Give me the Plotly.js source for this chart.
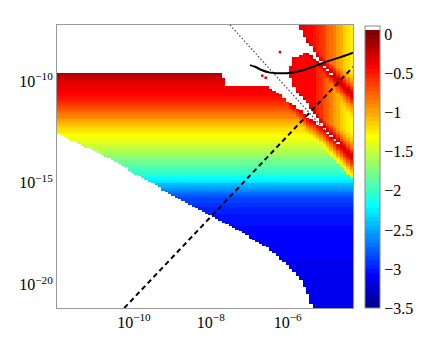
<!DOCTYPE html>
<html>
<head>
<meta charset="utf-8">
<script src="https://cdn.plot.ly/plotly-3.0.1.min.js"></script>
<style>body{margin:0;background:#fff}</style>
</head>
<body>
<div id="chart" style="width:436px;height:347px"></div>
<script>
// all values are log10 of the axis quantities

// colour (log10 value) of the main band, against log10 y
const profileY = [-21, -20, -19, -18, -17, -16.5, -16, -15.5, -15, -14.5, -14, -13.5, -13, -12.5, -12, -11.5, -11, -10.5, -10, -9.75, -9.5, -9];
const profileZ = [-3.15, -3.14, -3.12, -3.1, -3.06, -3.02, -2.95, -2.8, -2.45, -2.1, -1.88, -1.68, -1.46, -1.3, -1.1, -0.84, -0.6, -0.42, -0.36, -0.28, -0.15, -0.05];

// lower edge of the coloured area
const bottomX = [-12.0, -11.52, -11.01, -10.49, -9.97, -9.45, -8.93, -8.41, -7.97, -7.45, -6.94, -6.50, -6.07, -5.86, -5.60, -5.42, -5.38];
const bottomY = [-12.42, -12.83, -13.33, -13.82, -14.39, -14.96, -15.54, -16.03, -16.52, -17.01, -17.58, -18.07, -18.81, -19.14, -19.78, -20.61, -21.0];

// upper edge of the main area (down the white wedge and its thin tail)
const topX = [-12, -7.71, -7.63, -6.55, -6.42, -6.20, -6.03, -5.86, -5.68, -5.51, -5.29, -5.08, -4.64, -4.3];
const topY = [-9.45, -9.45, -10.05, -10.05, -10.29, -10.46, -10.79, -11.03, -11.28, -11.61, -11.87, -12.16, -13.02, -13.70];

// red glow under the wedge: distance below the edge -> value
const haloD = [0, 0.1, 0.25, 0.45, 0.7, 1.0];
const haloZ = [-0.3, -0.42, -0.6, -0.85, -1.15, -1.5];

// middle lobe: lower edge, left edge, upper (stripe) edge
const low2X = [-5.94, -5.9, -5.77, -5.42, -5.07, -4.64, -4.3];
const low2Y = [-9.9, -10.1, -10.4, -11.11, -12.1, -12.99, -13.67];
const left2Y = [-10.3, -9.98, -9.41, -8.92, -8.7, -8.59, -8.45];
const left2X = [-5.8, -5.90, -5.94, -5.90, -5.85, -5.68, -5.55];
const stripeLowX = [-5.7, -5.42, -5.25, -5.1, -4.7, -4.3];
const stripeLowU = [-19.5, -19.43, -19.32, -19.28, -19.23, -19.2];
const mid2X = [-6, -5.3, -5.0, -4.7, -4.3];
const mid2Z = [-0.38, -0.45, -0.72, -1.05, -1.35];

// top right lobe
const lobe1X = [-5.75, -5.60, -5.42, -5.25, -5.12, -4.8, -4.3];
const lobe1U = [-18.5, -18.81, -18.94, -19.09, -19.16, -19.18, -19.17];
const mid1X = [-5.75, -5.4, -5.1, -4.8, -4.5, -4.3];
const mid1Z = [-0.35, -0.42, -0.6, -0.88, -1.15, -1.3];

// red glow along the stripes inside the lobes
const edgeD = [0, 0.15, 0.3, 0.5, 0.8, 1.2];
const edgeZ = [-0.22, -0.4, -0.6, -0.85, -1.1, -1.3];

// lines and dots
const dashX = [-10.25, -4.30];
const dashY = [-21.0, -9.16];
const dotX = [-7.50, -4.33];
const dotY = [-7.1, -13.73];
const curveX = [-6.98, -6.85, -6.68, -6.46, -6.24, -6.03, -5.68, -5.34, -4.99, -4.64, -4.30];
const curveY = [-9.07, -9.15, -9.31, -9.44, -9.47, -9.47, -9.36, -9.15, -8.90, -8.69, -8.46];
const redX = [-6.2, -6.66, -6.57];
const redY = [-8.43, -9.59, -9.69];

const xTicks = [-10, -8, -6];
const yTicks = [-20, -15, -10];
const cTicks = [0, -0.5, -1, -1.5, -2, -2.5, -3, -3.5];

function interp(xs, ys, x, outside) {
    if (x < xs[0]) return outside === undefined ? ys[0] : outside;
    for (let k = 1; k < xs.length; k++) {
        if (x <= xs[k]) {
            const t = (x - xs[k - 1]) / (xs[k] - xs[k - 1]);
            return ys[k - 1] + t * (ys[k] - ys[k - 1]);
        }
    }
    return outside === undefined ? ys[ys.length - 1] : outside;
}

// --- build the grid ---
const nx = 88, ny = 159;
const x0 = -12, x1 = -4.3, y0 = -21, y1 = -7.1;
const dx = (x1 - x0) / nx, dy = (y1 - y0) / ny;
const z = [];
for (let j = 0; j < ny; j++) {
    const Y = y0 + (j + 0.5) * dy;
    const row = [];
    for (let i = 0; i < nx; i++) {
        const X = x0 + (i + 0.5) * dx;
        const u = Y + 2 * X;
        let v = null;
        const bot = X > bottomX[bottomX.length - 1] ? -99 : interp(bottomX, bottomY, X);
        const top = interp(topX, topY, X);
        if (Y >= bot && Y <= top) {
            v = interp(profileY, profileZ, Y);
            if (X > -6.0) v = Math.max(v, interp(haloD, haloZ, top - Y, -99));
        } else if (X >= -5.94 && Y <= -8.45 && X >= interp(left2Y, left2X, Y)
                   && Y > interp(low2X, low2Y, X) && u < interp(stripeLowX, stripeLowU, X)) {
            const dA = Y - interp(low2X, low2Y, X);
            const dB = interp(stripeLowX, stripeLowU, X) - u;
            v = Math.max(interp(edgeD, edgeZ, dA), interp(edgeD, edgeZ, dB), interp(mid2X, mid2Z, X));
        } else if (X >= -5.75 && u > interp(lobe1X, lobe1U, X)) {
            const d1 = u - interp(lobe1X, lobe1U, X);
            v = Math.max(interp(edgeD, edgeZ, d1), interp(mid1X, mid1Z, X));
        }
        row.push(v);
    }
    z.push(row);
}

// MATLAB jet(64) with a white step on top
function jet(m) {
    const n = Math.ceil(m / 4);
    const u = [];
    for (let k = 1; k <= n; k++) u.push(k / n);
    for (let k = 1; k < n; k++) u.push(1);
    for (let k = n; k >= 1; k--) u.push(k / n);
    const off = Math.ceil(n / 2) - (m % 4 === 1 ? 1 : 0);
    const J = [];
    for (let k = 0; k < m; k++) J.push([0, 0, 0]);
    u.forEach((val, k) => {
        const g = off + k + 1, r = g + n, b = g - n;
        if (r <= m) J[r - 1][0] = val;
        if (g <= m) J[g - 1][1] = val;
        if (b >= 1) J[b - 1][2] = val;
    });
    return J;
}
const jc = jet(64);
const colorscale = [];
jc.forEach((c, k) => {
    const col = 'rgb(' + c.map(a => Math.round(a * 255)).join(',') + ')';
    colorscale.push([k / 65, col], [(k + 1) / 65, col]);
});
colorscale.push([64 / 65, 'rgb(255,255,255)'], [1, 'rgb(255,255,255)']);

const sup = v => '10<sup>' + String(v).replace('-', '\u2212') + '</sup>';
const font = { family: '"Liberation Serif", "Times New Roman", serif', size: 16, color: '#000' };

const traces = [
    {
        type: 'heatmap', z: z, x0: x0 + dx / 2, dx: dx, y0: y0 + dy / 2, dy: dy,
        colorscale: colorscale, zmin: -3.5, zmax: 0.1, hoverinfo: 'skip',
        colorbar: {
            x: 1.04, xanchor: 'left', xpad: 0, y: 0.497, yanchor: 'middle', ypad: 0,
            len: 0.995, lenmode: 'fraction',
            thickness: 15, thicknessmode: 'pixels', outlinecolor: '#888', outlinewidth: 1,
            tickvals: cTicks, ticktext: cTicks.map(v => String(v).replace('-', '\u2212')),
            ticks: '', ticklen: 0, tickfont: { family: font.family, size: 16, color: '#000' }
        }
    },
    { type: 'scatter', mode: 'lines', x: dotX, y: dotY, line: { color: '#444', width: 1.2, dash: '1.5px,2px' }, hoverinfo: 'skip' },
    { type: 'scatter', mode: 'lines', x: dashX, y: dashY, line: { color: '#000', width: 2, dash: '5px,3.5px' }, hoverinfo: 'skip' },
    { type: 'scatter', mode: 'lines', x: curveX, y: curveY, line: { color: '#000', width: 2, shape: 'spline' }, hoverinfo: 'skip' },
    { type: 'scatter', mode: 'markers', x: redX, y: redY, marker: { color: '#d00', size: 2.5, symbol: 'square' }, hoverinfo: 'skip' }
];

const layout = {
    width: 436, height: 347,
    margin: { l: 57, r: 83, t: 25, b: 39 },
    paper_bgcolor: '#fff', plot_bgcolor: '#fff',
    showlegend: false,
    font: font,
    xaxis: {
        range: [x0, x1], tickvals: xTicks, ticktext: xTicks.map(sup),
        showgrid: false, zeroline: false, ticks: '',
        showline: true, mirror: true, linecolor: '#999', linewidth: 1
    },
    yaxis: {
        range: [y0, y1], tickvals: yTicks, ticktext: yTicks.map(sup),
        showgrid: false, zeroline: false, ticks: '', ticklabelshift: -3,
        showline: true, mirror: true, linecolor: '#999', linewidth: 1
    }
};

Plotly.newPlot('chart', traces, layout, { displayModeBar: false, staticPlot: true });
</script>
</body>
</html>
